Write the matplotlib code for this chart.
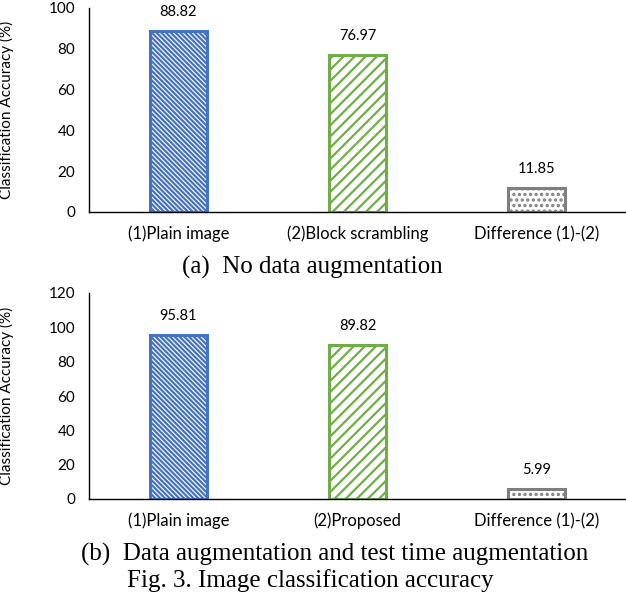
import matplotlib
matplotlib.use("Agg")
import matplotlib.pyplot as plt

# Data
labels_a = ['(1)Plain image', '(2)Block scrambling', 'Difference (1)-(2)']
values_a = [88.82, 76.97, 11.85]
labels_b = ['(1)Plain image', '(2)Proposed', 'Difference (1)-(2)']
values_b = [95.81, 89.82, 5.99]

edge_colors = ['#4472C4', '#70AD47', '#7F7F7F']
hatches = ['\\' * 7, '///', '...']

plt.rcParams['font.family'] = ['Lato', 'DejaVu Sans']
plt.rcParams['hatch.linewidth'] = 1.6

fig = plt.figure(figsize=(6.26, 6.0), dpi=100)
W, H = 626, 600


def make_axes(x0, y_top, y_bot):
    return fig.add_axes([x0 / W, 1 - y_bot / H, 1 - x0 / W, (y_bot - y_top) / H])


def draw_panel(ax, labels, values, ymax):
    x = range(len(labels))
    bars = ax.bar(x, values, width=0.32, color='white')
    for bar, ec, h in zip(bars, edge_colors, hatches):
        bar.set_edgecolor(ec)
        bar.set_hatch(h)
        bar.set_linewidth(2.2)
    for xi, v in zip(x, values):
        ax.annotate(f'{v:.2f}', (xi, v), xytext=(0, 13.5), textcoords='offset points',
                    ha='center', va='center', fontsize=10.5)
    ax.set_xlim(-0.5, len(labels) - 0.5)
    ax.set_ylim(0, ymax)
    ax.set_yticks(range(0, ymax + 1, 20))
    ax.set_xticks(list(x))
    ax.set_xticklabels(labels, fontsize=12)
    ax.tick_params(length=0, pad=10)
    ax.tick_params(axis='y', labelsize=11)
    for s in ['top', 'right']:
        ax.spines[s].set_visible(False)
    for s in ['left', 'bottom']:
        ax.spines[s].set_linewidth(1.0)
        ax.spines[s].set_color('black')
    ax.set_ylabel('Classification Accuracy (%)', fontsize=11)
    ax.yaxis.set_label_coords(-0.14, 0.5)


ax1 = make_axes(89, 8, 212)
draw_panel(ax1, labels_a, values_a, 100)

ax2 = make_axes(89, 293, 499)
draw_panel(ax2, labels_b, values_b, 120)

serif = ['Liberation Serif', 'DejaVu Serif']
fig.text(312 / W, 1 - 267 / H, '(a)  No data augmentation', family=serif,
         fontsize=18, ha='center', va='center')
fig.text(335 / W, 1 - 554 / H, '(b)  Data augmentation and test time augmentation',
         family=serif, fontsize=18, ha='center', va='center')
fig.text(310 / W, 1 - 581 / H, 'Fig. 3. Image classification accuracy', family=serif,
         fontsize=18, ha='center', va='center')

fig.savefig('out.png', dpi=100)
